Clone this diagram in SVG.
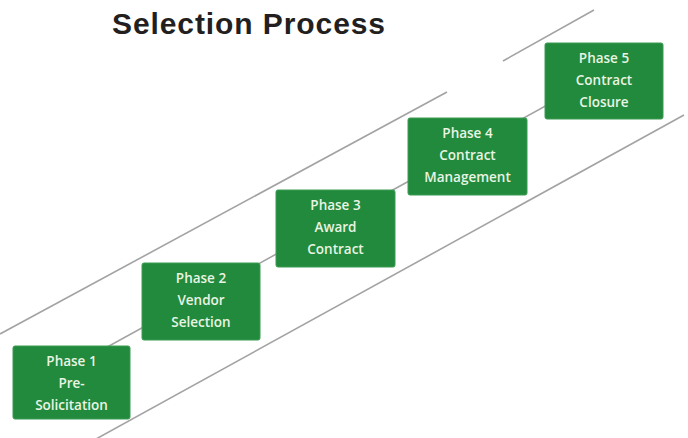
<svg xmlns="http://www.w3.org/2000/svg" width="688" height="438" viewBox="0 0 688 438">
<style>
.ln{stroke:#a3a3a3;stroke-width:1.6;fill:none}
.box{fill:#218a3d;stroke:#3d9c52;stroke-width:1}
.lbl{font-family:"Open Sans","Noto Sans",sans-serif;font-weight:600;font-size:13.5px;fill:#e9f4e3;text-anchor:middle}
.title{font-family:"Liberation Sans",Arial,sans-serif;font-weight:bold;font-size:30px;fill:#231f20}
</style>
<rect width="688" height="438" fill="#ffffff"/>
<text class="title" x="112" y="34" textLength="273">Selection Process</text>
<g id="connectors">
<line class="ln" x1="0" y1="334" x2="447" y2="92"/>
<line class="ln" x1="503" y1="61" x2="594" y2="10"/>
<line class="ln" x1="60" y1="373" x2="600" y2="76"/>
<line class="ln" x1="96" y1="439" x2="684" y2="115"/>
</g>
<g id="phase1">
<rect class="box" x="13" y="346" width="117" height="73" rx="2"/>
<text class="lbl" x="71.5" y="366">Phase 1</text>
<text class="lbl" x="71.5" y="388">Pre-</text>
<text class="lbl" x="71.5" y="410">Solicitation</text>
</g>
<g id="phase2">
<rect class="box" x="142" y="263" width="118" height="77" rx="2"/>
<text class="lbl" x="201" y="283">Phase 2</text>
<text class="lbl" x="201" y="305">Vendor</text>
<text class="lbl" x="201" y="327">Selection</text>
</g>
<g id="phase3">
<rect class="box" x="276" y="190" width="119" height="77" rx="2"/>
<text class="lbl" x="335.5" y="210">Phase 3</text>
<text class="lbl" x="335.5" y="232">Award</text>
<text class="lbl" x="335.5" y="254">Contract</text>
</g>
<g id="phase4">
<rect class="box" x="408" y="118" width="119" height="77" rx="2"/>
<text class="lbl" x="467.5" y="138">Phase 4</text>
<text class="lbl" x="467.5" y="160">Contract</text>
<text class="lbl" x="467.5" y="182">Management</text>
</g>
<g id="phase5">
<rect class="box" x="545" y="43" width="118" height="76" rx="2"/>
<text class="lbl" x="604" y="63">Phase 5</text>
<text class="lbl" x="604" y="85">Contract</text>
<text class="lbl" x="604" y="107">Closure</text>
</g>
</svg>
